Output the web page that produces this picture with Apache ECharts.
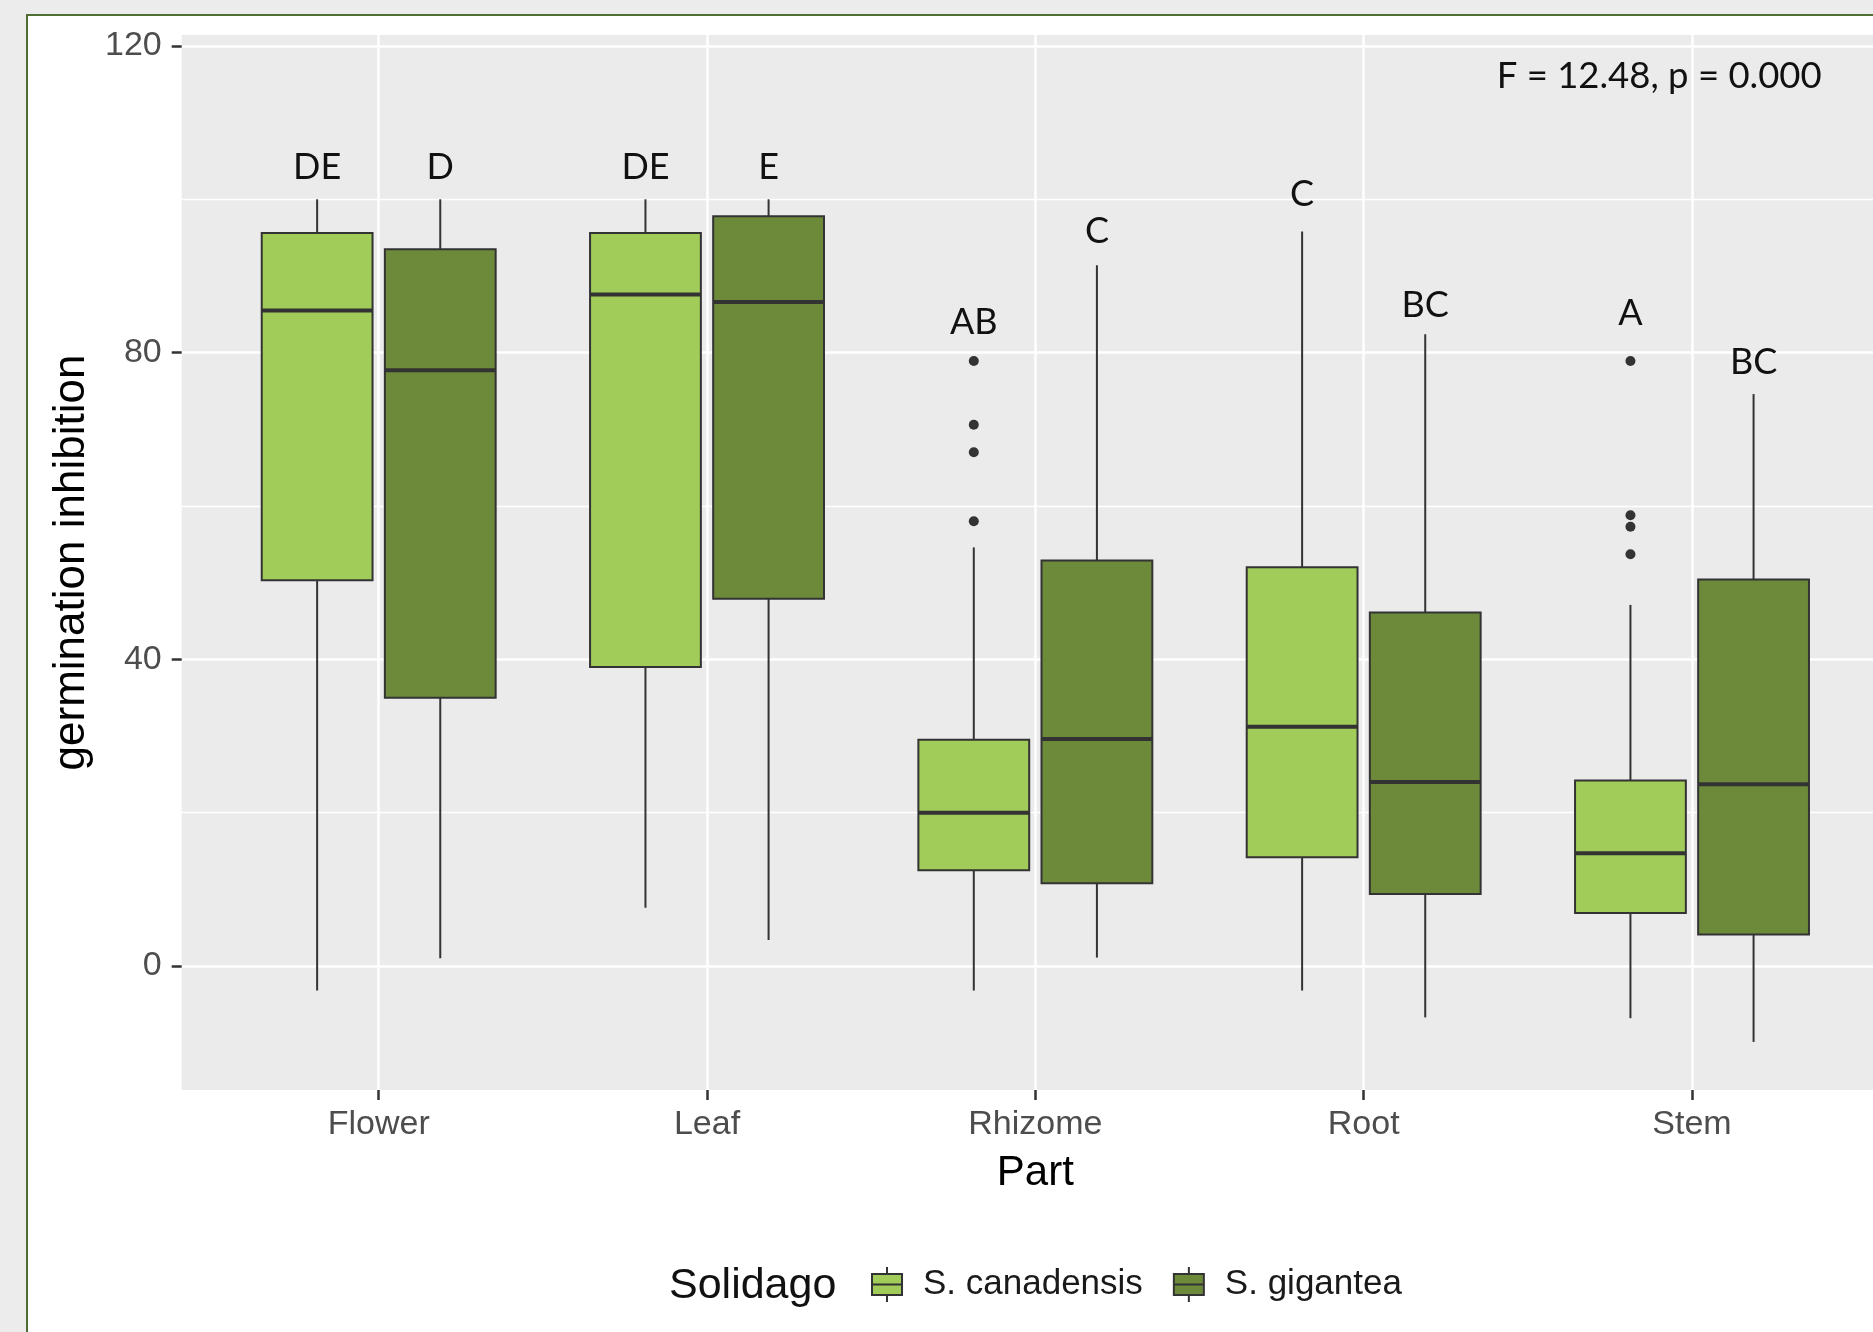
<!DOCTYPE html>
<html>
<head>
<meta charset="utf-8">
<script src="https://cdn.jsdelivr.net/npm/echarts@6/dist/echarts.min.js"></script>
<style>
  html, body { margin: 0; padding: 0; width: 1873px; height: 1332px; overflow: hidden; background: #ececec; }
  #frame { position: absolute; left: 26px; top: 14px; width: 1900px; height: 1400px; background: #ffffff;
           border: 2px solid #4f6d35; box-sizing: border-box; }
  #chart { position: absolute; left: 0; top: 0; width: 1873px; height: 1332px; }
</style>
</head>
<body>
<div id="frame"></div>
<div id="chart"></div>
<script>
// Plant parts on the x axis
const categories = ['Flower', 'Leaf', 'Rhizome', 'Root', 'Stem'];
const speciesNames = ['S. canadensis', 'S. gigantea'];

// Box summaries per part: [lower whisker, Q1, median, Q3, upper whisker]
const canadensisBoxes = [
  [-3.2, 50.3, 85.5, 95.6, 100.0],
  [7.6, 39.0, 87.6, 95.6, 100.0],
  [-3.2, 12.5, 20.0, 29.5, 54.6],
  [-3.2, 14.2, 31.2, 52.0, 95.8],
  [-6.8, 6.9, 14.7, 24.2, 47.1]
];
const giganteaBoxes = [
  [1.0, 35.0, 77.7, 93.5, 100.0],
  [3.4, 47.9, 86.6, 97.8, 100.0],
  [1.1, 10.8, 29.6, 52.9, 91.4],
  [-6.7, 9.4, 24.0, 46.1, 82.4],
  [-9.9, 4.1, 23.7, 50.4, 74.6]
];

// Points beyond the whiskers, per part
const canadensisOutliers = [[], [], [78.9, 70.6, 67.0, 58.0], [], [78.9, 58.8, 57.3, 53.7]];
const giganteaOutliers = [[], [], [], [], []];

// Post-hoc group letters and the height they are written at
const canadensisLetters = ['DE', 'DE', 'AB', 'C', 'A'];
const giganteaLetters = ['D', 'E', 'C', 'BC', 'BC'];
const canadensisLetterY = [104.1, 104.1, 84.0, 100.6, 85.1];
const giganteaLetterY = [104.1, 104.1, 95.8, 86.2, 78.7];

// ANOVA result annotation
const statText = 'F = 12.48, p = 0.000';
const statX = 4.9;
const statY = 116.1;

// Axis breaks
const yTicks = [0, 40, 80, 120];
const yMinorTicks = [20, 60, 100];
const xTicks = categories.map((c, i) => i + 1);

// Dodge layout (in category units)
const DODGE = 0.1875;
const BOX_W = 0.3375;
const offsets = [-DODGE, DODGE];
const fills = ['#a1cc5a', '#6c8a3a'];
const INK = '#333333';
const TEXT_FONT = 'Liberation Sans';

function boxRenderer(offset, fill) {
  return function (params, api) {
    const pos = api.value(0) + offset;
    const pt = (i) => api.coord([pos, api.value(i)]);
    const lo = pt(1), q1 = pt(2), md = pt(3), q3 = pt(4), hi = pt(5);
    const half = api.size([BOX_W, 0])[0] / 2;
    const x = md[0];
    return {
      type: 'group',
      children: [
        { type: 'line', shape: { x1: x, y1: hi[1], x2: x, y2: q3[1] }, style: { stroke: INK, lineWidth: 2 } },
        { type: 'line', shape: { x1: x, y1: q1[1], x2: x, y2: lo[1] }, style: { stroke: INK, lineWidth: 2 } },
        { type: 'rect', shape: { x: x - half, y: q3[1], width: 2 * half, height: q1[1] - q3[1] },
          style: { fill: fill, stroke: INK, lineWidth: 2 } },
        { type: 'line', shape: { x1: x - half, y1: md[1], x2: x + half, y2: md[1] }, style: { stroke: INK, lineWidth: 4 } }
      ]
    };
  };
}

function outlierRenderer(offset) {
  return function (params, api) {
    const c = api.coord([api.value(0) + offset, api.value(1)]);
    return { type: 'circle', shape: { cx: c[0], cy: c[1], r: 5 }, style: { fill: INK } };
  };
}

function letterRenderer(offset, letters) {
  return function (params, api) {
    const c = api.coord([api.value(0) + offset, api.value(1)]);
    return {
      type: 'text', x: c[0], y: c[1],
      style: { text: letters[params.dataIndex], fill: '#111111', fontFamily: 'Lato', fontSize: 36,
               align: 'center', verticalAlign: 'middle' }
    };
  };
}

const boxSets = [canadensisBoxes, giganteaBoxes];
const outlierSets = [canadensisOutliers, giganteaOutliers];
const letterSets = [canadensisLetters, giganteaLetters];
const letterYSets = [canadensisLetterY, giganteaLetterY];

const series = [];
speciesNames.forEach((name, s) => {
  series.push({
    name: name,
    type: 'custom',
    renderItem: boxRenderer(offsets[s], fills[s]),
    itemStyle: { color: fills[s], borderColor: INK, borderWidth: 2 },
    encode: { x: 0, y: [1, 2, 3, 4, 5] },
    data: boxSets[s].map((b, i) => [i + 1].concat(b)),
    z: 3
  });
  const pts = [];
  outlierSets[s].forEach((vals, i) => vals.forEach(v => pts.push([i + 1, v])));
  series.push({
    name: name + ' outliers',
    type: 'custom',
    renderItem: outlierRenderer(offsets[s]),
    encode: { x: 0, y: 1 },
    data: pts,
    z: 4
  });
  series.push({
    name: name + ' letters',
    type: 'custom',
    renderItem: letterRenderer(offsets[s], letterSets[s]),
    encode: { x: 0, y: 1 },
    data: letterYSets[s].map((y, i) => [i + 1, y]),
    z: 4
  });
});
series.push({
  name: 'stat',
  type: 'custom',
  renderItem: function (params, api) {
    const c = api.coord([api.value(0), api.value(1)]);
    return {
      type: 'text', x: c[0], y: c[1],
      style: { text: statText, fill: '#111111', fontFamily: 'Lato', fontSize: 36.5, align: 'center', verticalAlign: 'middle' }
    };
  },
  encode: { x: 0, y: 1 },
  data: [[statX, statY]],
  z: 4
});

// Legend key: box with whiskers and a median bar
const keyIcon = 'path://M0,7L30,7L30,28L0,28ZM15,0L15,7M15,28L15,35M0,17.5L30,17.5';

const chart = echarts.init(document.getElementById('chart'), null, { renderer: 'canvas' });
chart.setOption({
  animation: false,
  backgroundColor: 'transparent',
  grid: {
    left: 181.7, right: -16, top: 35, bottom: 242,
    show: true, backgroundColor: '#ebebeb', borderWidth: 0,
    containLabel: false, outerBoundsMode: 'none'
  },
  xAxis: {
    type: 'value', min: 0.4, max: 5.6,
    axisLine: { show: false, onZero: false },
    axisTick: { show: true, length: 10, customValues: xTicks, lineStyle: { color: INK, width: 2.5 } },
    axisLabel: {
      customValues: xTicks, margin: 18,
      formatter: (v) => categories[Math.round(v) - 1],
      fontFamily: TEXT_FONT, fontSize: 34, color: '#4d4d4d'
    },
    splitLine: { show: true, lineStyle: { color: '#ffffff', width: 2.5 } },
    name: 'Part', nameLocation: 'middle', nameGap: 62,
    nameTextStyle: { fontFamily: TEXT_FONT, fontSize: 42, color: '#000000' }
  },
  yAxis: [
    {
      type: 'value', min: -16.17, max: 121.43,
      axisLine: { show: false, onZero: false },
      axisTick: { show: true, length: 10, customValues: yTicks, lineStyle: { color: INK, width: 2.5 } },
      axisLabel: { customValues: yTicks, margin: 20, fontFamily: TEXT_FONT, fontSize: 34, color: '#4d4d4d' },
      splitLine: { show: true, lineStyle: { color: '#ffffff', width: 2.5 } },
      name: 'germination inhibition', nameLocation: 'middle', nameGap: 88,
      nameTextStyle: { fontFamily: TEXT_FONT, fontSize: 44, color: '#000000' }
    },
    {
      type: 'value', min: -16.17, max: 121.43, position: 'left',
      axisLine: { show: false, onZero: false },
      axisTick: { show: false, customValues: yMinorTicks },
      axisLabel: { show: false, customValues: yMinorTicks },
      splitLine: { show: true, lineStyle: { color: '#ffffff', width: 1.3 } }
    }
  ],
  legend: {
    data: speciesNames.map(n => ({ name: n, icon: keyIcon })),
    left: 866, top: 1261, itemWidth: 30, itemHeight: 35, itemGap: 30,
    selectedMode: false,
    itemStyle: { borderColor: INK, borderWidth: 2 },
    textStyle: { fontFamily: TEXT_FONT, fontSize: 35, color: '#1a1a1a', padding: [0, 0, 0, 16] }
  },
  graphic: [
    {
      type: 'text', x: 669, y: 1286,
      style: { text: 'Solidago', fontFamily: TEXT_FONT, fontSize: 43, fill: '#111111', align: 'left', verticalAlign: 'middle' }
    }
  ],
  series: series
});
</script>
</body>
</html>
